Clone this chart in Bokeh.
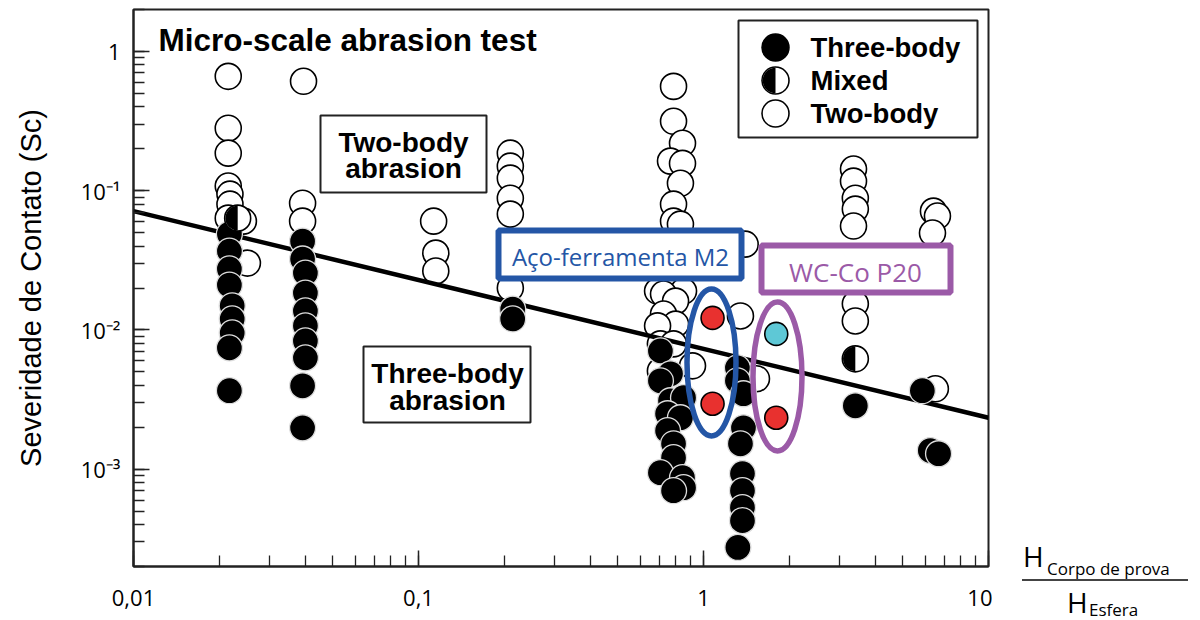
import math
from bokeh.plotting import figure
from bokeh.layouts import row
from bokeh.models import Range1d, LinearScale, CustomJSTickFormatter, Div
from bokeh.core.properties import value
from bokeh.embed import file_html
from bokeh.resources import INLINE

# ---------------- data ----------------
two_body_x = [0.0215, 0.0215, 0.0215, 0.0215, 0.0218, 0.0218, 0.0215, 0.0243, 0.0251,
              0.0395, 0.0392, 0.0392,
              0.113, 0.115, 0.115,
              0.210, 0.210, 0.210, 0.210, 0.210, 0.210, 0.210, 0.210,
              0.785, 0.785, 0.844, 0.766, 0.844, 0.830, 0.785, 0.785, 0.830, 0.690,
              0.851, 0.724, 0.798, 0.724, 0.798, 0.690, 0.706, 0.785, 0.706, 0.915,
              1.40, 1.348, 1.534,
              3.36, 3.36, 3.41, 3.41, 3.36, 3.41, 3.41,
              6.41, 6.62, 6.36, 6.51]
two_body_y = [0.662, 0.281, 0.186, 0.108, 0.0944, 0.0800, 0.0635, 0.0604, 0.0302,
              0.610, 0.0813, 0.0604,
              0.0604, 0.0356, 0.0265,
              0.186, 0.150, 0.123, 0.0883, 0.0679, 0.0434, 0.0288, 0.0200,
              0.561, 0.315, 0.219, 0.163, 0.157, 0.113, 0.0800, 0.0604, 0.0575, 0.0190,
              0.0190, 0.0181, 0.0161, 0.0130, 0.0110, 0.0107, 0.00794, 0.00794, 0.00508, 0.00552,
              0.0413, 0.0126, 0.00446,
              0.143, 0.117, 0.0883, 0.0737, 0.0557, 0.0154, 0.0116,
              0.0713, 0.0657, 0.0496, 0.00378]

three_body_x = [0.0217, 0.0217, 0.0217, 0.0217, 0.0222, 0.0222, 0.0222, 0.0217, 0.0217,
                0.0392, 0.0392, 0.0401, 0.0401, 0.0401, 0.0401, 0.0401, 0.0401, 0.0392, 0.0392,
                0.214, 0.214,
                0.706, 0.766, 0.706, 0.766, 0.851, 0.748, 0.830, 0.748, 0.785, 0.785,
                0.706, 0.844, 0.851, 0.785,
                1.315, 1.315, 1.381, 1.381, 1.348, 1.370, 1.370, 1.370, 1.370, 1.32,
                3.41,
                5.86, 6.25, 6.68]
three_body_y = [0.0488, 0.0368, 0.0274, 0.0210, 0.0149, 0.0120, 0.00951, 0.00743, 0.00366,
                0.0434, 0.0323, 0.0256, 0.0184, 0.0137, 0.0107, 0.00834, 0.00630, 0.00397, 0.00198,
                0.0141, 0.0120,
                0.00707, 0.00484, 0.00431, 0.00310, 0.00326, 0.00250, 0.00234, 0.00189, 0.00152, 0.00121,
                0.000944, 0.000869, 0.000736, 0.000701,
                0.00534, 0.00431, 0.00348, 0.00198, 0.00152, 0.000929, 0.000701, 0.000530, 0.000427, 0.000274,
                0.00285,
                0.00366, 0.00136, 0.00129]

mixed_x = [0.0232, 3.41]
mixed_y = [0.0635, 0.0062]

m2_x = [1.076, 1.076]
m2_y = [0.0122, 0.00295]
m2_colors = ["#e8312f", "#e8312f"]

wc_x = [1.80, 1.80]
wc_y = [0.00936, 0.00234]
wc_colors = ["#5ec8d6", "#e8312f"]

fit_x = [0.01, 10.0]
fit_y = [0.0713, 0.00234]

x_tick_labels = ["0,01", "0,1", "1", "10"]
y_tick_labels = ["10\u207b\u00b3", "10\u207b\u00b2", "10\u207b\u00b9", "1"]
legend_labels = ["Three-body", "Mixed", "Two-body"]

# ---------------- main figure ----------------
FW, FH = 855, 557
TOP, BOTTOM, LEFT, RIGHT = 9, 52, 133, 4
p = figure(frame_width=FW, frame_height=FH,
           x_axis_type="log", y_axis_type="log",
           x_range=Range1d(0.01, 10), y_range=Range1d(2e-4, 2),
           output_backend="svg", toolbar_location=None,
           min_border_left=LEFT, min_border_right=RIGHT,
           min_border_top=TOP, min_border_bottom=BOTTOM,
           background_fill_color="white", border_fill_color="white")

# pixel space of the frame (x from frame left, y downward from frame top)
p.extra_x_ranges = {"px": Range1d(0, FW)}
p.extra_y_ranges = {"px": Range1d(FH, 0)}
p.extra_x_scales = {"px": LinearScale()}
p.extra_y_scales = {"px": LinearScale()}

p.xgrid.visible = False
p.ygrid.visible = False
p.outline_line_color = "#222222"
p.outline_line_width = 2

for ax in (p.xaxis[0], p.yaxis[0]):
    ax.axis_line_color = "#222222"
    ax.axis_line_width = 2
    ax.major_tick_in = 16
    ax.major_tick_out = 0
    ax.minor_tick_in = 11
    ax.minor_tick_out = 0
    ax.major_tick_line_color = "#222222"
    ax.minor_tick_line_color = "#222222"
    ax.major_tick_line_width = 1.5
    ax.minor_tick_line_width = 1.3
    ax.major_label_text_font = "Open Sans"
    ax.major_label_text_font_size = "22px"
    ax.major_label_text_color = "black"

p.xaxis[0].formatter = CustomJSTickFormatter(
    args=dict(labels=x_tick_labels, e0=-2),
    code="const i = Math.round(Math.log10(tick)) - e0; return (i >= 0 && i < labels.length) ? labels[i] : '';")
p.yaxis[0].formatter = CustomJSTickFormatter(
    args=dict(labels=y_tick_labels, e0=-3),
    code="const i = Math.round(Math.log10(tick)) - e0; return (i >= 0 && i < labels.length) ? labels[i] : '';")
p.xaxis[0].major_label_standoff = 23
p.yaxis[0].major_label_standoff = 13

p.yaxis[0].axis_label = "Severidade de Contato (Sc)"
p.yaxis[0].axis_label_text_font = "Liberation Sans"
p.yaxis[0].axis_label_text_font_style = "normal"
p.yaxis[0].axis_label_text_font_size = "29px"
p.yaxis[0].axis_label_text_color = "black"
p.yaxis[0].axis_label_standoff = 31

# ---------------- data marks ----------------
p.scatter(two_body_x, two_body_y, size=26, marker="circle",
          fill_color="white", line_color="black", line_width=1.6)
p.line(fit_x, fit_y, line_color="black", line_width=4.5)
p.scatter(three_body_x, three_body_y, size=26, marker="circle",
          fill_color="black", line_color="#dddddd", line_width=1.3)
p.scatter(mixed_x, mixed_y, size=26, marker="circle",
          fill_color="white", line_color="black", line_width=1.6)
p.wedge(mixed_x, mixed_y, radius=12.3, radius_units="screen",
        start_angle=math.pi / 2, end_angle=3 * math.pi / 2,
        fill_color="black", line_color=None)

p.scatter(m2_x, m2_y, size=23, marker="circle", fill_color=m2_colors,
          line_color="black", line_width=1.6)
p.scatter(wc_x, wc_y, size=23, marker="circle", fill_color=wc_colors,
          line_color="black", line_width=1.6)

# ---------------- annotations (frame pixel space) ----------------
PX = dict(x_range_name="px", y_range_name="px")

# ellipses around the highlighted samples
ell_x = [578, 644]
ell_y = [353, 367]
ell_w = [49, 49]
ell_h = [147, 149]
ell_colors = ["#2456a6", "#9b5aa7"]
p.ellipse(ell_x, ell_y, width=ell_w, height=ell_h, fill_color=None,
          line_color=ell_colors, line_width=5.5, **PX)

# text boxes
p.quad(left=[187, 230], right=[353, 397], top=[106, 337], bottom=[183, 413],
       fill_color="white", line_color="#222222", line_width=2, **PX)
p.text([270, 270, 314, 314], [132.5, 158.5, 363.5, 391],
       text=["Two-body", "abrasion", "Three-body", "abrasion"],
       text_font=value("Liberation Sans"), text_font_style="bold",
       text_font_size=value("28px"), text_align="center",
       text_baseline="middle", text_color="black", **PX)

# title
p.text([25], [30], text=["Micro-scale abrasion test"],
       text_font=value("Liberation Sans"), text_font_style="bold",
       text_font_size=value("31.5px"), text_align="left",
       text_baseline="middle", text_color="black", **PX)

# material labels
p.quad(left=[365], right=[608], top=[221], bottom=[269],
       fill_color="white", line_color="#2456a6", line_width=6, **PX)
p.text([487], [246.5], text=["A\u00e7o-ferramenta M2"],
       text_font=value("Open Sans"), text_font_size=value("24px"),
       text_align="center", text_baseline="middle",
       text_color="#2456a6", **PX)
p.quad(left=[628], right=[817], top=[236], bottom=[283],
       fill_color="white", line_color="#9b5aa7", line_width=6, **PX)
p.text([722], [262], text=["WC-Co P20"],
       text_font=value("Open Sans"), text_font_size=value("26px"),
       text_align="center", text_baseline="middle",
       text_color="#9b5aa7", **PX)

# legend
leg_x = 642
leg_y = [38, 71, 104]
p.quad(left=[605], right=[844], top=[11], bottom=[128],
       fill_color="white", line_color="#222222", line_width=2, **PX)
p.scatter([leg_x], [leg_y[0]], size=27, marker="circle",
          fill_color="black", line_color="black", line_width=1.5, **PX)
p.scatter([leg_x, leg_x], [leg_y[1], leg_y[2]], size=27, marker="circle",
          fill_color="white", line_color="black", line_width=1.6, **PX)
p.wedge([leg_x], [leg_y[1]], radius=12.8,
        start_angle=math.pi / 2, end_angle=3 * math.pi / 2,
        fill_color="black", line_color=None, **PX)
p.text([677] * 3, leg_y, text=legend_labels,
       text_font=value("Liberation Sans"), text_font_style="bold",
       text_font_size=value("27.5px"), text_align="left",
       text_baseline="middle", text_color="black", **PX)

# ---------------- x-axis title (fraction) as an HTML block to the right ----------------
PW = 204
PH = TOP + FH + BOTTOM
frac_text = ["H", "Corpo de prova", "H", "Esfera"]
frac_left = [31, 55, 75, 97]
frac_top = [542, 560, 588, 601]
frac_size = [28, 17, 28, 17]
spans = "".join(
    f'<span style="position:absolute;left:{x}px;top:{t}px;font-size:{s}px;'
    f'line-height:1;white-space:nowrap;">{txt}</span>'
    for txt, x, t, s in zip(frac_text, frac_left, frac_top, frac_size))
bar = ('<div style="position:absolute;left:30px;top:579px;width:166px;height:2px;'
       'background:#444444;"></div>')
html = (f'<div style="position:relative;width:{PW}px;height:{PH}px;'
        f"font-family:'Open Sans',sans-serif;color:black;\">{spans}{bar}</div>")
frac = Div(text=html, width=PW, height=PH, margin=0)

layout = row(p, frac, spacing=0)
open("out.html", "w").write(file_html(layout, INLINE))
